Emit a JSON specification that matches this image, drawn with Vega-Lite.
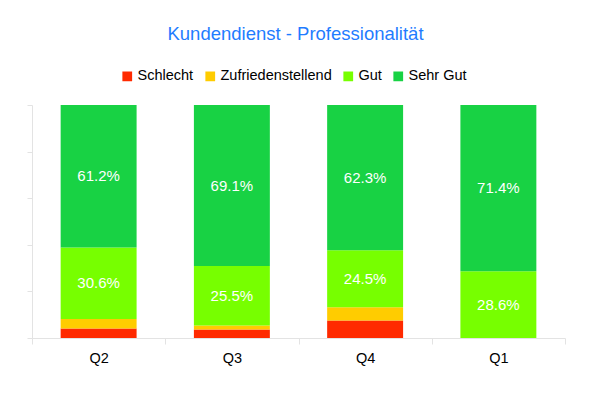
{
  "$schema": "https://vega.github.io/schema/vega-lite/v6.json",
  "width": 533,
  "height": 233,
  "autosize": {"type": "none"},
  "padding": {"left": 32, "top": 105, "right": 26, "bottom": 55},
  "background": "white",
  "title": {
    "text": "Kundendienst - Professionalität",
    "font": "Liberation Sans",
    "fontSize": 18.5,
    "fontWeight": "normal",
    "color": "#1f7cff",
    "anchor": "middle",
    "dx": -3,
    "offset": 26
  },
  "data": {
    "values": [
      {"q": "Q2", "cat": "Schlecht", "pct": 4.1},
      {"q": "Q2", "cat": "Zufriedenstellend", "pct": 4.1},
      {"q": "Q2", "cat": "Gut", "pct": 30.6},
      {"q": "Q2", "cat": "Sehr Gut", "pct": 61.2},
      {"q": "Q3", "cat": "Schlecht", "pct": 3.6},
      {"q": "Q3", "cat": "Zufriedenstellend", "pct": 1.8},
      {"q": "Q3", "cat": "Gut", "pct": 25.5},
      {"q": "Q3", "cat": "Sehr Gut", "pct": 69.1},
      {"q": "Q4", "cat": "Schlecht", "pct": 7.5},
      {"q": "Q4", "cat": "Zufriedenstellend", "pct": 5.7},
      {"q": "Q4", "cat": "Gut", "pct": 24.5},
      {"q": "Q4", "cat": "Sehr Gut", "pct": 62.3},
      {"q": "Q1", "cat": "Schlecht", "pct": 0},
      {"q": "Q1", "cat": "Zufriedenstellend", "pct": 0},
      {"q": "Q1", "cat": "Gut", "pct": 28.6},
      {"q": "Q1", "cat": "Sehr Gut", "pct": 71.4}
    ]
  },
  "transform": [
    {"calculate": "indexof(['Schlecht','Zufriedenstellend','Gut','Sehr Gut'], datum.cat)", "as": "rank"},
    {"stack": "pct", "groupby": ["q"], "sort": [{"field": "rank", "order": "ascending"}], "as": ["y0", "y1"]},
    {"calculate": "(datum.y0 + datum.y1) / 2", "as": "mid"},
    {"calculate": "format(datum.pct, '.1f') + '%'", "as": "label"}
  ],
  "encoding": {
    "x": {
      "field": "q",
      "type": "nominal",
      "sort": ["Q2", "Q3", "Q4", "Q1"],
      "scale": {"paddingInner": 0, "paddingOuter": 0},
      "axis": {
        "title": null,
        "labelAngle": 0,
        "labelFont": "Liberation Sans",
        "labelFontSize": 14.5,
        "labelColor": "#000000",
        "labelPadding": 7,
        "tickBand": "extent",
        "tickSize": 6,
        "tickColor": "#e3e3e3",
        "domainColor": "#e3e3e3",
        "grid": false
      }
    }
  },
  "layer": [
    {
      "mark": {"type": "bar", "width": {"band": 0.57}},
      "encoding": {
        "y": {
          "field": "y0",
          "type": "quantitative",
          "scale": {"domain": [0, 100], "nice": false},
          "axis": {
            "title": null,
            "labels": false,
            "grid": false,
            "tickCount": 10,
            "values": [0, 10, 20, 30, 40, 50, 60, 70, 80, 90, 100],
            "tickSize": 5,
            "tickColor": "#e3e3e3",
            "domainColor": "#e3e3e3"
          }
        },
        "y2": {"field": "y1"},
        "color": {
          "field": "cat",
          "type": "nominal",
          "scale": {
            "domain": ["Schlecht", "Zufriedenstellend", "Gut", "Sehr Gut"],
            "range": ["#ff2a00", "#ffcc00", "#77ff00", "#18d244"]
          },
          "legend": {
            "title": null,
            "orient": "none",
            "direction": "horizontal",
            "legendX": 88,
            "legendY": -36,
            "symbolType": "square",
            "symbolSize": 95,
            "symbolStrokeWidth": 0,
            "labelFont": "Liberation Sans",
            "labelFontSize": 14.5,
            "labelColor": "#000000",
            "labelOffset": 3,
            "columnPadding": 9
          }
        }
      }
    },
    {
      "transform": [{"filter": "datum.pct >= 20"}],
      "mark": {"type": "text", "color": "white", "font": "Liberation Sans", "fontSize": 15, "baseline": "middle"},
      "encoding": {
        "y": {"field": "mid", "type": "quantitative"},
        "text": {"field": "label"}
      }
    }
  ],
  "config": {"view": {"stroke": null}}
}
